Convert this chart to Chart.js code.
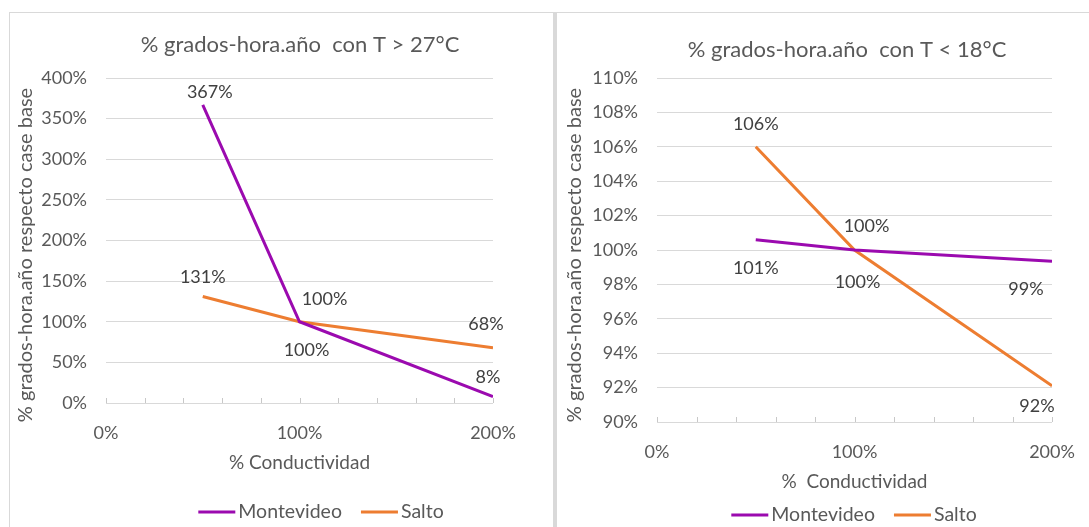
<!DOCTYPE html>
<html>
<head>
<meta charset="utf-8">
<script src="https://cdn.jsdelivr.net/npm/chart.js@4.4.1/dist/chart.umd.min.js"></script>
<style>
  html, body { margin: 0; padding: 0; background: #fff; overflow: hidden; }
  body { width: 1089px; height: 527px; position: relative; }
  .box { position: absolute; border: 1px solid #d9d9d9; }
  #box-calor { left: 9px; top: 12px; width: 543px; height: 540px; }
  #box-frio { left: 554px; top: 12px; width: 560px; height: 540px; border-left: 3px solid #d9d9d9; }
  canvas { position: absolute; }
</style>
</head>
<body>
<div class="box" id="box-calor"><canvas id="calor"></canvas></div>
<div class="box" id="box-frio"><canvas id="frio"></canvas></div>
<script>
document.addEventListener("DOMContentLoaded", function () {
    // % conductividad (eje x)
    const conductividad = [50, 100, 200];

    // % grados-hora.año con T > 27°C
    const montevideoCalor = [367, 100, 8];
    const saltoCalor = [131, 100, 68];

    // % grados-hora.año con T < 18°C
    const montevideoFrio = [100.6, 100, 99.35];
    const saltoFrio = [106, 100, 92.1];

    const seriesNames = ['Montevideo', 'Salto'];
    const colors = ['#9b0aaf', '#ed7d31'];
    const textColor = '#595959';
    const fontFamily = "Lato, 'Open Sans', sans-serif";
    const yTitle = '% grados-hora.año respecto case base';

    // etiquetas de datos, desplazamiento en px respecto al punto
    const labelsPlugin = {
        id: 'dataLabels',
        afterDatasetsDraw(chart) {
            const ctx = chart.ctx;
            ctx.save();
            ctx.font = '18px ' + fontFamily;
            ctx.fillStyle = '#404040';
            ctx.textAlign = 'center';
            ctx.textBaseline = 'middle';
            chart.data.datasets.forEach((ds, i) => {
                const meta = chart.getDatasetMeta(i);
                meta.data.forEach((pt, j) => {
                    const off = ds.labelOffsets[j];
                    const v = ds.data[j].y;
                    ctx.fillText(Math.round(v) + '%', pt.x + off[0], pt.y + off[1]);
                });
            });
            ctx.restore();
        }
    };

    // marcas menores del eje x, hacia adentro
    const minorTicks = {
        id: 'minorTicks',
        afterDraw(chart) {
            const x = chart.scales.x;
            const bottom = chart.chartArea.bottom;
            const ctx = chart.ctx;
            ctx.save();
            ctx.strokeStyle = '#c8c8c8';
            ctx.lineWidth = 1;
            for (let v = 0; v <= 200; v += 20) {
                const px = Math.round(x.getPixelForValue(v)) + 0.5;
                ctx.beginPath();
                ctx.moveTo(px, bottom);
                ctx.lineTo(px, bottom - 5);
                ctx.stroke();
            }
            ctx.restore();
        }
    };

    // titulo, titulo del eje y y leyenda al estilo Excel
    const titleLegend = {
        id: 'titleLegend',
        afterDraw(chart, args, opts) {
            const ctx = chart.ctx;
            ctx.save();
            ctx.fillStyle = textColor;
            ctx.textBaseline = 'middle';
            ctx.textAlign = 'center';
            ctx.font = '22px ' + fontFamily;
            ctx.fillText(opts.title, opts.titleX, opts.titleY);

            ctx.save();
            ctx.translate(opts.yTitleX, opts.yTitleY);
            ctx.rotate(-Math.PI / 2);
            ctx.font = '20px ' + fontFamily;
            ctx.fillText(yTitle, 0, 0);
            ctx.restore();

            ctx.font = '19.5px ' + fontFamily;
            ctx.textAlign = 'left';
            const lineW = 37, gap = 3, itemGap = 19;
            const items = chart.data.datasets.map(ds => ({
                text: ds.label, color: ds.borderColor,
                w: lineW + gap + ctx.measureText(ds.label).width
            }));
            const total = items.reduce((a, it) => a + it.w, 0) + itemGap * (items.length - 1);
            let x = opts.legendX - total / 2;
            items.forEach(it => {
                ctx.strokeStyle = it.color;
                ctx.lineWidth = 3;
                ctx.beginPath();
                ctx.moveTo(x, opts.legendY);
                ctx.lineTo(x + lineW, opts.legendY);
                ctx.stroke();
                ctx.fillText(it.text, x + lineW + gap, opts.legendY);
                x += it.w + itemGap;
            });
            ctx.restore();
        }
    };

    function points(values) {
        return values.map((v, i) => ({ x: conductividad[i], y: v }));
    }

    function makeChart(id, width, height, opts) {
        const canvas = document.getElementById(id);
        canvas.width = width;
        canvas.height = height;
        canvas.style.width = width + 'px';
        canvas.style.height = height + 'px';

        return new Chart(canvas.getContext('2d'), {
            type: 'line',
            data: {
                datasets: opts.series.map((vals, i) => ({
                    label: seriesNames[i],
                    data: points(vals),
                    borderColor: colors[i],
                    backgroundColor: colors[i],
                    borderWidth: 3,
                    pointRadius: 0,
                    tension: 0,
                    labelOffsets: opts.offsets[i]
                }))
            },
            options: {
                responsive: false,
                animation: false,
                layout: { padding: opts.padding },
                plugins: {
                    title: { display: false },
                    legend: { display: false },
                    tooltip: { enabled: false },
                    titleLegend: opts.titleLegend
                },
                scales: {
                    x: {
                        type: 'linear',
                        min: 0,
                        max: 200,
                        afterFit: s => { s.height = opts.xHeight; },
                        ticks: {
                            stepSize: 100,
                            color: textColor,
                            font: { family: fontFamily, size: 18 },
                            padding: 19,
                            maxRotation: 0,
                            callback: v => v + '%'
                        },
                        grid: { display: false, tickLength: 0 },
                        border: { display: false },
                        title: {
                            display: true,
                            text: opts.xTitle,
                            color: textColor,
                            font: { family: fontFamily, size: 19 },
                            padding: { top: 0, bottom: 9 }
                        }
                    },
                    y: {
                        min: opts.yMin,
                        max: opts.yMax,
                        afterFit: s => { s.width = opts.yWidth; },
                        ticks: {
                            stepSize: opts.yStep,
                            color: textColor,
                            font: { family: fontFamily, size: 18 },
                            padding: 19,
                            callback: v => Math.round(v) + '%'
                        },
                        grid: { color: '#d9d9d9', drawTicks: false },
                        border: { display: false }
                    }
                }
            },
            plugins: [labelsPlugin, minorTicks, titleLegend]
        });
    }

    makeChart('calor', 541, 520, {
        xTitle: '% Conductividad',
        series: [montevideoCalor, saltoCalor],
        offsets: [
            [[7, -13], [7, 28], [-5, -19]],
            [[0, -19], [25, -23], [-7, -24]]
        ],
        yMin: 0, yMax: 400, yStep: 50,
        padding: { left: 5, right: 58, top: 65, bottom: 50 },
        yWidth: 91,
        xHeight: 80,
        titleLegend: {
            title: '% grados-hora.año  con T > 27°C',
            titleX: 290, titleY: 32,
            yTitleX: 16, yTitleY: 242,
            legendX: 311, legendY: 499
        }
    });

    makeChart('frio', 557, 525, {
        xTitle: '%  Conductividad',
        series: [montevideoFrio, saltoFrio],
        offsets: [
            [[0, 29], [3, 32], [-26, 28]],
            [[0, -23], [12, -24], [-15, 20]]
        ],
        yMin: 90, yMax: 110, yStep: 2,
        padding: { left: 7, right: 62, top: 65, bottom: 36 },
        yWidth: 93,
        xHeight: 80,
        titleLegend: {
            title: '% grados-hora.año  con T < 18°C',
            titleX: 290, titleY: 37,
            yTitleX: 18, yTitleY: 242,
            legendX: 297, legendY: 502
        }
    });
});
</script>
</body>
</html>
